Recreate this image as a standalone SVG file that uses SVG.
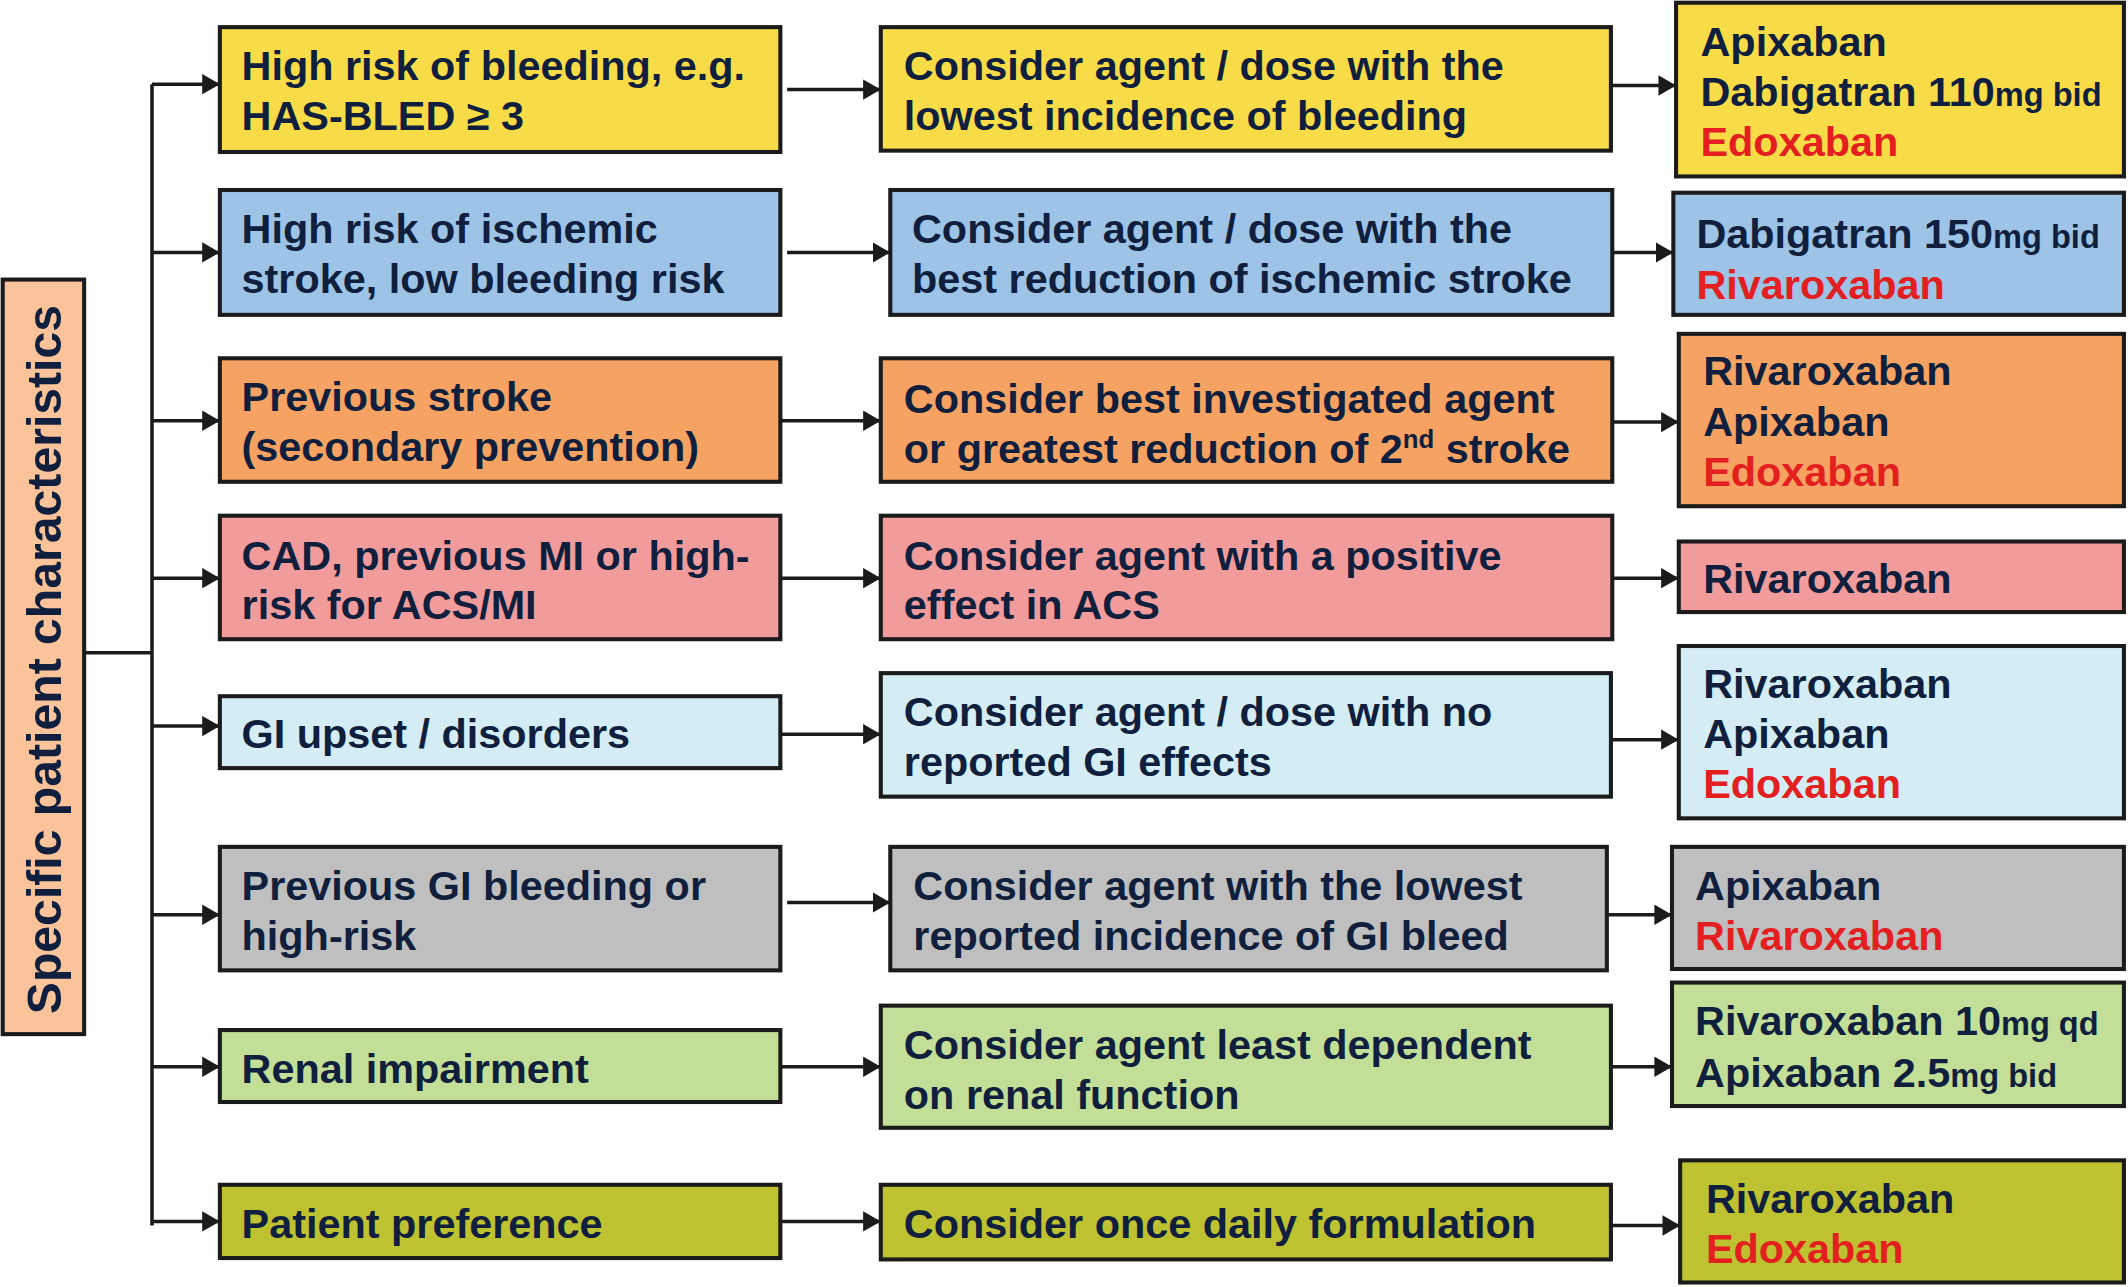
<svg xmlns="http://www.w3.org/2000/svg" width="2128" height="1287" viewBox="0 0 2128 1287">
<defs>
<style>
.box{stroke:#1b1b1b;stroke-width:3}
.t{font-family:"Liberation Sans",Arial,sans-serif;font-weight:bold;font-size:30.5px;fill:#0f1f3d}
.r{fill:#e3201f}
.s{font-size:24px}
.c{stroke:#1b1b1b;stroke-width:2.6;fill:none}
.ca{stroke:#1b1b1b;stroke-width:2.6;fill:none;marker-end:url(#ah)}
.y{fill:#f8dc47}.b{fill:#9dc3e6}.o{fill:#f5a262}.p{fill:#f29b9b}.lc{fill:#d4edf4}.g{fill:#bfbfbf}.lg{fill:#c3df97}.ol{fill:#bec130}.pe{fill:#fac39a}
</style>
<marker id="ah" markerUnits="userSpaceOnUse" markerWidth="14" markerHeight="15" refX="13" refY="7.5" orient="auto">
<path d="M0,0 L13,7.5 L0,15 z" fill="#1b1b1b"/>
</marker>
</defs>
<rect width="2128" height="1287" fill="#ffffff"/>
<g transform="scale(1.35714)">
<g id="connectors">
<path class="c" d="M62,481 H112 M112,62 V903"/>
<path class="ca" d="M112,62 H162"/>
<path class="ca" d="M112,186 H162"/>
<path class="ca" d="M112,310 H162"/>
<path class="ca" d="M112,426 H162"/>
<path class="ca" d="M112,535 H162"/>
<path class="ca" d="M112,674 H162"/>
<path class="ca" d="M112,786 H162"/>
<path class="ca" d="M112,900 H162"/>
<path class="ca" d="M580,66 H649"/>
<path class="ca" d="M580,186 H656"/>
<path class="ca" d="M575,310 H649"/>
<path class="ca" d="M575,426 H649"/>
<path class="ca" d="M575,541 H649"/>
<path class="ca" d="M580,665 H656"/>
<path class="ca" d="M575,786 H649"/>
<path class="ca" d="M575,900 H649"/>
<path class="ca" d="M1187,63 H1235"/>
<path class="ca" d="M1188,186 H1233"/>
<path class="ca" d="M1188,311 H1237"/>
<path class="ca" d="M1188,426 H1237"/>
<path class="ca" d="M1187,545 H1237"/>
<path class="ca" d="M1184,674 H1232"/>
<path class="ca" d="M1187,786 H1232"/>
<path class="ca" d="M1187,903 H1238"/>
</g>
<g id="label">
<rect class="box pe" x="2" y="206" width="60" height="556"/>
<text class="t" style="font-size:35.5px" transform="translate(45,486) rotate(-90)" text-anchor="middle">Specific patient characteristics</text>
</g>
<g id="row1-left"><rect class="box y" x="162" y="20" width="413" height="92"/>
<text class="t" x="178" y="59">High risk of bleeding, e.g.</text><text class="t" x="178" y="96">HAS-BLED ≥ 3</text></g>
<g id="row1-mid"><rect class="box y" x="649" y="20" width="538" height="91"/>
<text class="t" x="666" y="59">Consider agent / dose with the</text><text class="t" x="666" y="96">lowest incidence of bleeding</text></g>
<g id="row1-right"><rect class="box y" x="1235" y="2" width="330" height="128"/>
<text class="t" x="1253" y="41">Apixaban</text><text class="t" x="1253" y="78">Dabigatran 110<tspan class="s">mg bid</tspan></text><text class="t r" x="1253" y="115">Edoxaban</text></g>

<g id="row2-left"><rect class="box b" x="162" y="140" width="413" height="92"/>
<text class="t" x="178" y="179">High risk of ischemic</text><text class="t" x="178" y="216">stroke, low bleeding risk</text></g>
<g id="row2-mid"><rect class="box b" x="656" y="140" width="532" height="92"/>
<text class="t" x="672" y="179">Consider agent / dose with the</text><text class="t" x="672" y="216">best reduction of ischemic stroke</text></g>
<g id="row2-right"><rect class="box b" x="1233" y="142" width="332" height="90"/>
<text class="t" x="1250" y="183">Dabigatran 150<tspan class="s">mg bid</tspan></text><text class="t r" x="1250" y="220">Rivaroxaban</text></g>

<g id="row3-left"><rect class="box o" x="162" y="264" width="413" height="91"/>
<text class="t" x="178" y="303">Previous stroke</text><text class="t" x="178" y="340">(secondary prevention)</text></g>
<g id="row3-mid"><rect class="box o" x="649" y="264" width="539" height="91"/>
<text class="t" x="666" y="304">Consider best investigated agent</text><text class="t" x="666" y="341">or greatest reduction of 2<tspan style="font-size:19px" dy="-11">nd</tspan><tspan dy="11"> stroke</tspan></text></g>
<g id="row3-right"><rect class="box o" x="1237" y="246" width="328" height="127"/>
<text class="t" x="1255" y="284">Rivaroxaban</text><text class="t" x="1255" y="321">Apixaban</text><text class="t r" x="1255" y="358">Edoxaban</text></g>

<g id="row4-left"><rect class="box p" x="162" y="380" width="413" height="91"/>
<text class="t" x="178" y="420">CAD, previous MI or high-</text><text class="t" x="178" y="456">risk for ACS/MI</text></g>
<g id="row4-mid"><rect class="box p" x="649" y="380" width="539" height="91"/>
<text class="t" x="666" y="420">Consider agent with a positive</text><text class="t" x="666" y="456">effect in ACS</text></g>
<g id="row4-right"><rect class="box p" x="1237" y="399" width="328" height="52"/>
<text class="t" x="1255" y="437">Rivaroxaban</text></g>

<g id="row5-left"><rect class="box lc" x="162" y="513" width="413" height="53"/>
<text class="t" x="178" y="551">GI upset / disorders</text></g>
<g id="row5-mid"><rect class="box lc" x="649" y="496" width="538" height="91"/>
<text class="t" x="666" y="535">Consider agent / dose with no</text><text class="t" x="666" y="572">reported GI effects</text></g>
<g id="row5-right"><rect class="box lc" x="1237" y="476" width="328" height="127"/>
<text class="t" x="1255" y="514">Rivaroxaban</text><text class="t" x="1255" y="551">Apixaban</text><text class="t r" x="1255" y="588">Edoxaban</text></g>

<g id="row6-left"><rect class="box g" x="162" y="624" width="413" height="91"/>
<text class="t" x="178" y="663">Previous GI bleeding or</text><text class="t" x="178" y="700">high-risk</text></g>
<g id="row6-mid"><rect class="box g" x="656" y="624" width="528" height="91"/>
<text class="t" x="673" y="663">Consider agent with the lowest</text><text class="t" x="673" y="700">reported incidence of GI bleed</text></g>
<g id="row6-right"><rect class="box g" x="1232" y="624" width="333" height="90"/>
<text class="t" x="1249" y="663">Apixaban</text><text class="t r" x="1249" y="700">Rivaroxaban</text></g>

<g id="row7-left"><rect class="box lg" x="162" y="759" width="413" height="53"/>
<text class="t" x="178" y="798">Renal impairment</text></g>
<g id="row7-mid"><rect class="box lg" x="649" y="741" width="538" height="90"/>
<text class="t" x="666" y="780">Consider agent least dependent</text><text class="t" x="666" y="817">on renal function</text></g>
<g id="row7-right"><rect class="box lg" x="1232" y="724" width="333" height="91"/>
<text class="t" x="1249" y="763">Rivaroxaban 10<tspan class="s">mg qd</tspan></text><text class="t" x="1249" y="801">Apixaban 2.5<tspan class="s">mg bid</tspan></text></g>

<g id="row8-left"><rect class="box ol" x="162" y="873" width="413" height="54"/>
<text class="t" x="178" y="912">Patient preference</text></g>
<g id="row8-mid"><rect class="box ol" x="649" y="873" width="538" height="55"/>
<text class="t" x="666" y="912">Consider once daily formulation</text></g>
<g id="row8-right"><rect class="box ol" x="1238" y="855" width="327" height="90"/>
<text class="t" x="1257" y="894">Rivaroxaban</text><text class="t r" x="1257" y="931">Edoxaban</text></g>
</g>
</svg>
